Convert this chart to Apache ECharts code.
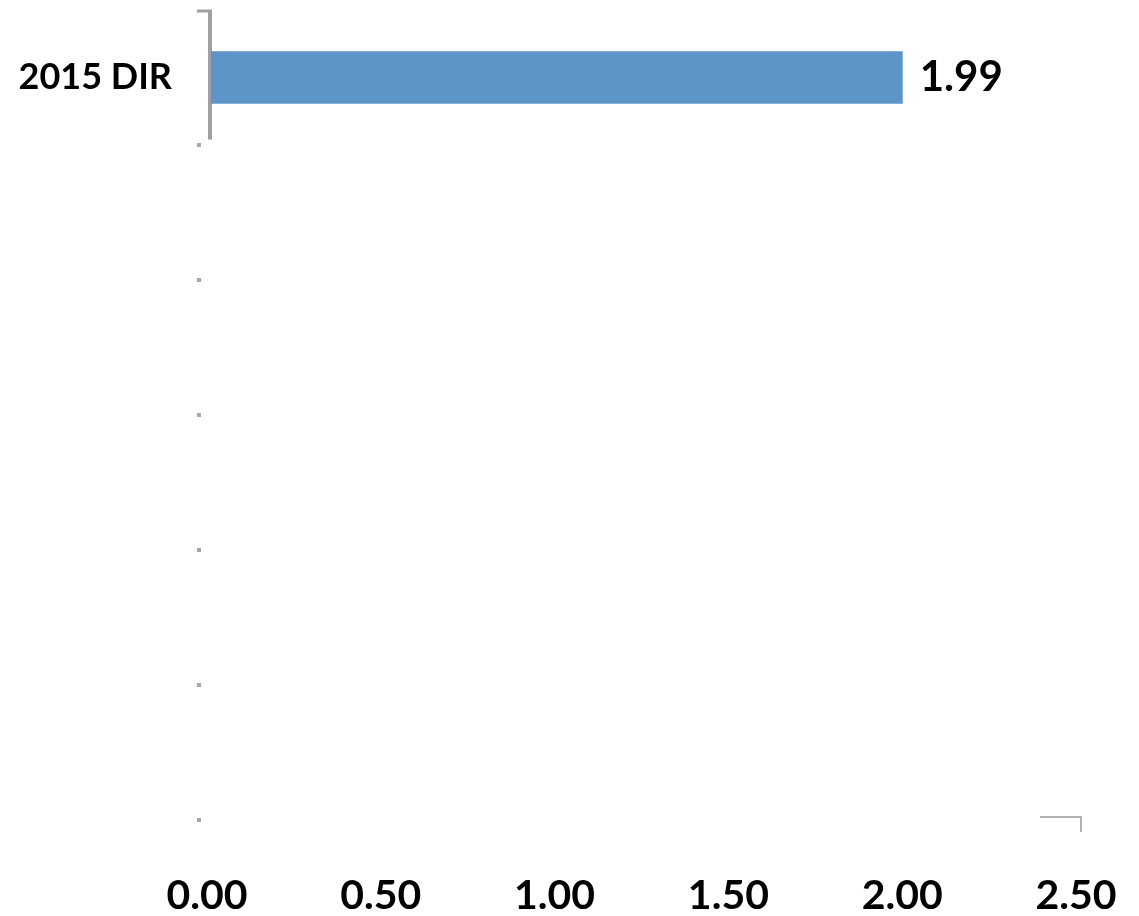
<!DOCTYPE html>
<html><head><meta charset="utf-8">
<script src="https://cdn.jsdelivr.net/npm/echarts@6/dist/echarts.min.js"></script>
<style>html,body{margin:0;padding:0;background:#fff}#c{width:1139px;height:916px}</style>
</head><body><div id="c"></div>
<script>
const categories = ['2015 DIR', '', '', '', '', ''];
const values = [1.99, null, null, null, null, null];
const xTicks = [0, 0.5, 1, 1.5, 2, 2.5];

const chart = echarts.init(document.getElementById('c'));
const font = 'Lato, "Open Sans", sans-serif';
chart.setOption({
  animation: false,
  grid: { left: 211, right: 59, top: 10, bottom: 96, containLabel: false },
  xAxis: {
    type: 'value', min: xTicks[0], max: xTicks[xTicks.length - 1], interval: 0.5,
    axisLine: { show: false }, axisTick: { show: false }, splitLine: { show: false },
    axisLabel: { formatter: v => v.toFixed(2), fontFamily: font, fontWeight: 'bold', fontSize: 41, color: '#000', margin: 55, padding: [0, 8, 0, 0] }
  },
  yAxis: {
    type: 'category', data: categories, inverse: true,
    axisLine: { show: false },
    axisTick: { show: false },
    axisLabel: { fontFamily: font, fontWeight: 'bold', fontSize: 36, color: '#000', margin: 39 }
  },
  series: [{
    type: 'bar', data: values, barWidth: '39%',
    itemStyle: { color: '#5e95c9' },
    label: { show: true, position: 'right', distance: 17, formatter: p => p.value.toFixed(2),
      fontFamily: font, fontWeight: 'bold', fontSize: 42, color: '#000' }
  }]
});

// decorative axis fragments positioned from the scales
const c0 = chart.convertToPixel({ yAxisIndex: 0 }, 0);
const c1 = chart.convertToPixel({ yAxisIndex: 0 }, 1);
const band = c1 - c0;
const top0 = c0 - band / 2;
const x0 = chart.convertToPixel({ xAxisIndex: 0 }, 0);
const xEnd = chart.convertToPixel({ xAxisIndex: 0 }, xTicks[xTicks.length - 1]);
const bottomY = chart.convertToPixel({ yAxisIndex: 0 }, categories.length - 1) + band / 2;
const graphics = [
  { type: 'line', shape: { x1: x0 - 1, y1: top0, x2: x0 - 1, y2: top0 + band * 0.96 }, style: { stroke: '#a0a0a0', lineWidth: 4 } },
  { type: 'line', shape: { x1: x0 - 14, y1: top0 + 1, x2: x0 + 1, y2: top0 + 1 }, style: { stroke: '#a0a0a0', lineWidth: 3 } },
  { type: 'polyline', shape: { points: [[xEnd - 40, bottomY - 3], [xEnd + 1, bottomY - 3], [xEnd + 1, bottomY + 12]] }, style: { stroke: '#b0b0b0', lineWidth: 2, fill: null } }
];
for (let i = 1; i <= categories.length; i++) {
  const y = top0 + band * i;
  graphics.push({ type: 'rect', shape: { x: x0 - 14, y: y - 2, width: 4, height: 4 }, style: { fill: '#a6a6a6' } });
}
chart.setOption({ graphic: graphics });
</script></body></html>
